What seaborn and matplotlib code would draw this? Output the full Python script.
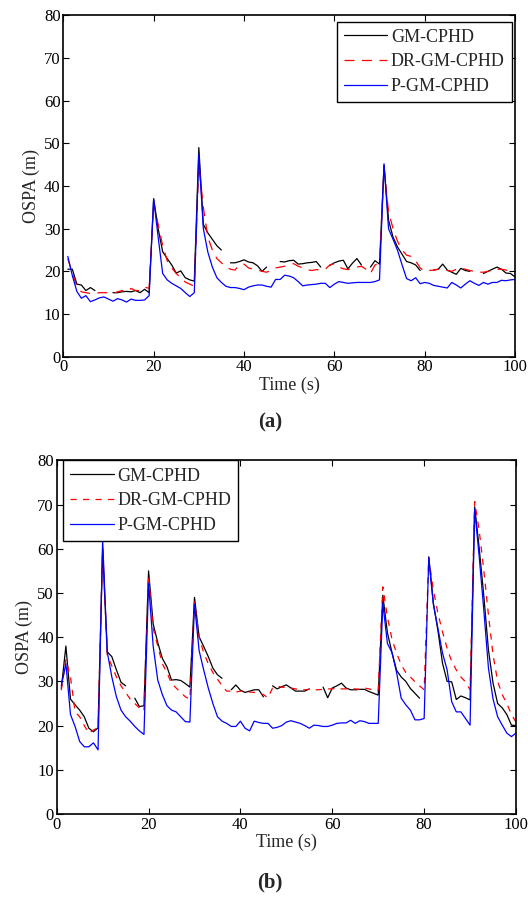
import numpy as np
import pandas as pd
import matplotlib
matplotlib.use("Agg")
import matplotlib.pyplot as plt
from matplotlib.lines import Line2D
import seaborn as sns

nan = np.nan
t = np.arange(1, 101)

# (a) OSPA values
gm_a = [20.5, 20.5, 17, 16.8, 15.5, 16.2, 15.5, nan, nan, nan,
        15, 15, 15.2, 15.3, 15.2, 15.5, 15, 15.8, 15, 37,
        30, 24.6, 23, 21.5, 19.6, 20.1, 18.5, 18, 17.7, 49,
        31, 29, 27.5, 26, 25, nan, 22, 22, 22.3, 22.7,
        22.2, 22, 21.3, 20, 21, nan, nan, 22.3, 22.2, 22.5,
        22.6, 21.7, 21.8, 22, 22.1, 22.3, 21, nan, 21.4, 22,
        22.4, 22.6, 20.6, 21.9, 23, 21.5, nan, 21, 22.5, 21.7,
        44.9, 32, 28, 25.7, 24, 22.3, 22, 21.5, 20.2, nan,
        nan, 20.3, 20.5, 21.7, 20.3, 19.8, 19.3, 20.7, 20.2, 20,
        nan, nan, 19.5, 20, 20.5, 21, 20.5, 19.6, 19.5, 18.7]
drgm_a = [23, 19.5, 16.5, 15.2, 15, 14.8, 14.8, 15, 15, 15,
          14.8, 15.2, 15.5, 15, 16, 15.5, 15.5, 16.3, 16, 36,
          31, 26, 22.5, 20.8, 19.5, 18.5, 17.5, 17, 16.5, 45,
          35, 28, 25, 23, 22, 21, 20.5, 20.3, 21.5, 21.7,
          20.8, 20.5, 20.3, 20, 19.8, 20.2, 20.8, 21, 21.2, 21.6,
          21.8, 21.2, 20.8, 20.4, 20.2, 20.4, 20.3, 20.5, 21.5, 21.8,
          21, 20.6, 20.4, 20.8, 21, 21.2, 20.5, 19.5, 21.5, 22,
          44, 34, 30, 27, 25, 23.8, 23.5, 22.5, 20.8, 20,
          20.2, 20.3, 20.5, 20.3, 20.2, 20, 20.5, 20.8, 20.5, 20.2,
          20, 19.8, 19.8, 20, 20.3, 20.5, 20.5, 20.3, 20, 19.8]
pgm_a = [23.5, 19, 15.3, 13.7, 14.3, 12.9, 13.3, 13.8, 14, 13.5,
         13, 13.6, 13.3, 12.8, 13.5, 13.2, 13.2, 13.3, 14.3, 37,
         28, 19.5, 18, 17.2, 16.6, 16, 15, 14.1, 15, 47.5,
         30, 24.5, 21, 18.5, 17.4, 16.5, 16.2, 16.2, 16, 15.7,
         16.3, 16.6, 16.8, 16.8, 16.5, 16.3, 18.1, 18.1, 19.1, 18.9,
         18.5, 17.6, 16.6, 16.8, 16.9, 17, 17.2, 17.2, 16.2, 17,
         17.6, 17.4, 17.2, 17.3, 17.4, 17.4, 17.4, 17.4, 17.6, 18,
         45.2, 30, 27.5, 24.9, 21.5, 18.3, 17.8, 18.5, 17.1, 17.4,
         17.2, 16.7, 16.5, 16.3, 16.1, 17.4, 16.8, 16.1, 17, 17.8,
         17.2, 16.7, 17.4, 17, 17.4, 17.4, 17.9, 17.8, 18, 18.1]

# (b) OSPA values
gm_b = [28.4, 38, 26, 24.7, 23.5, 22, 19.4, 18.6, 19.5, 60,
        36.7, 35.6, 32.6, 29.8, 29, nan, 26.2, 24.3, 24.5, 55,
        43, 38.8, 35.2, 33.3, 30.3, 30.4, 30.2, 29.5, 28.7, 49,
        40.1, 37.9, 35.6, 33, 31.5, 30.7, nan, 28.1, 29.2, 28,
        27.5, 27.8, 28.1, 28.1, 26.5, nan, 29, 28.3, 28.8, 29.2,
        28.5, 27.8, 27.8, 27.8, 28.3, nan, nan, 28.7, 26.3, 28.5,
        29, 29.6, 28.5, 28.1, 28.1, 28.2, 28.2, 27.7, 27.3, 26.9,
        49.5, 41, 36.5, 32.5, 31, 30, 28.4, 27.3, 26.2, nan,
        58.2, 47.7, 41.5, 34.1, 30, 29.9, 25.9, 26.7, 26.3, 25.8,
        69.5, 60, 49.2, 37.1, 29.6, 25, 24, 22.5, 20.1, 20]
drgm_b = [28, 35, 31, 23.1, 22, 20, 18.3, 19, 19.5, 60,
          36, 33.5, 31, 29, 27.5, 26, 25, 24, 23.3, 54,
          42, 38, 34, 32, 29.5, 28.5, 27.5, 26.5, 26, 48,
          40, 36.5, 34, 32, 30.5, 29, 27.8, 27.8, 27.6, 27.8,
          27.8, 27.6, 27.5, 27.3, 27, 26.3, 28.5, 28.9, 28.7, 28.6,
          28.5, 28.3, 28.1, 28.1, 28.2, 28.1, 28.1, 28.2, 28.3, 28.3,
          28.4, 28.3, 28.3, 28.2, 28.3, 28.2, 28.5, 28.3, 28, 28,
          51.4, 44.6, 39.5, 36.4, 33.8, 32, 31, 29.9, 29, 28.1,
          58, 50.7, 45.4, 41.2, 37.5, 34.5, 32.6, 31, 29.9, 28.1,
          70.7, 64, 55, 45, 36, 30, 27, 25, 22.5, 20.8]
pgm_b = [29, 34, 22.5, 19.8, 16.4, 15.2, 15.2, 16.1, 14.5, 62,
         36.7, 31, 26.5, 23.5, 22, 21, 19.8, 18.8, 18, 52.2,
         38, 30.3, 27, 24.5, 23.5, 23.1, 22, 20.9, 20.8, 47.5,
         37, 32.6, 28.5, 25, 22, 21, 20.5, 19.8, 19.8, 21,
         19.4, 18.8, 21, 20.7, 20.5, 20.5, 19.4, 19.6, 20, 20.8,
         21.1, 20.8, 20.5, 20, 19.4, 20.1, 20, 19.8, 19.8, 20.1,
         20.5, 20.6, 20.6, 21.2, 20.5, 21.1, 20.9, 20.5, 20.5, 20.5,
         47.7, 38.6, 36.5, 32, 26.2, 24.7, 23.5, 21.3, 21.3, 21.6,
         58, 47.5, 42, 36.4, 32.6, 25.4, 23.1, 23.1, 21.6, 20.1,
         69, 58, 46, 33, 26, 22, 20.1, 18.3, 17.5, 18.3]

labels = ["GM-CPHD", "DR-GM-CPHD", "P-GM-CPHD"]
colors = ["black", "red", "blue"]

sns.set_theme(style="ticks")
plt.rcParams["font.family"] = ["Liberation Serif", "DejaVu Serif"]

fig = plt.figure(figsize=(5.28, 9), dpi=100)
ax1 = fig.add_axes([0.1199, 0.6037, 0.8555, 0.3792])
ax2 = fig.add_axes([0.1074, 0.0956, 0.8699, 0.3928])


def draw(ax, series, dash, loc, anchor):
    styles = [(None, None), dash, (None, None)]
    handles = []
    for y, lab, c, ds in zip(series, labels, colors, styles):
        df = pd.DataFrame({"t": t, "v": y})
        # break the line where values are missing
        df["seg"] = df["v"].isna().cumsum()
        df = df.dropna()
        kw = {} if ds[0] is None else {"dashes": ds}
        sns.lineplot(data=df, x="t", y="v", units="seg", estimator=None,
                     ax=ax, color=c, lw=0.9, **kw)
        handles.append(Line2D([], [], color=c, lw=0.9,
                              dashes=ds if ds[0] is not None else (None, None),
                              label=lab))
    ax.set_xlim(0, 100)
    ax.set_ylim(0, 80)
    ax.set_xticks(range(0, 101, 20))
    ax.set_yticks(range(0, 81, 10))
    ax.tick_params(direction="in", top=True, right=True, labelsize=12,
                   length=4, width=0.8, colors="black", pad=2)
    for s in ax.spines.values():
        s.set_linewidth(1.2)
        s.set_color("black")
    ax.set_xlabel("Time (s)", fontsize=13, labelpad=1)
    ax.set_ylabel("OSPA (m)", fontsize=13, labelpad=3)
    leg = ax.legend(handles=handles, loc=loc, bbox_to_anchor=anchor, fontsize=13,
                    fancybox=False, framealpha=1, edgecolor="black",
                    handlelength=2.4, handletextpad=0.2, labelspacing=0.42,
                    borderpad=0.4, borderaxespad=0)
    leg.get_frame().set_linewidth(1.0)


draw(ax1, [gm_a, drgm_a, pgm_a], (8, 6), "upper right", (0.993, 0.982))
draw(ax2, [gm_b, drgm_b, pgm_b], (5, 5), "upper left", (0.014, 1.0))

fig.text(0.511, 0.531, "(a)", ha="center", va="center", fontsize=15, fontweight="bold")
fig.text(0.511, 0.02, "(b)", ha="center", va="center", fontsize=15, fontweight="bold")

fig.savefig("out.png", dpi=100, facecolor="white")
